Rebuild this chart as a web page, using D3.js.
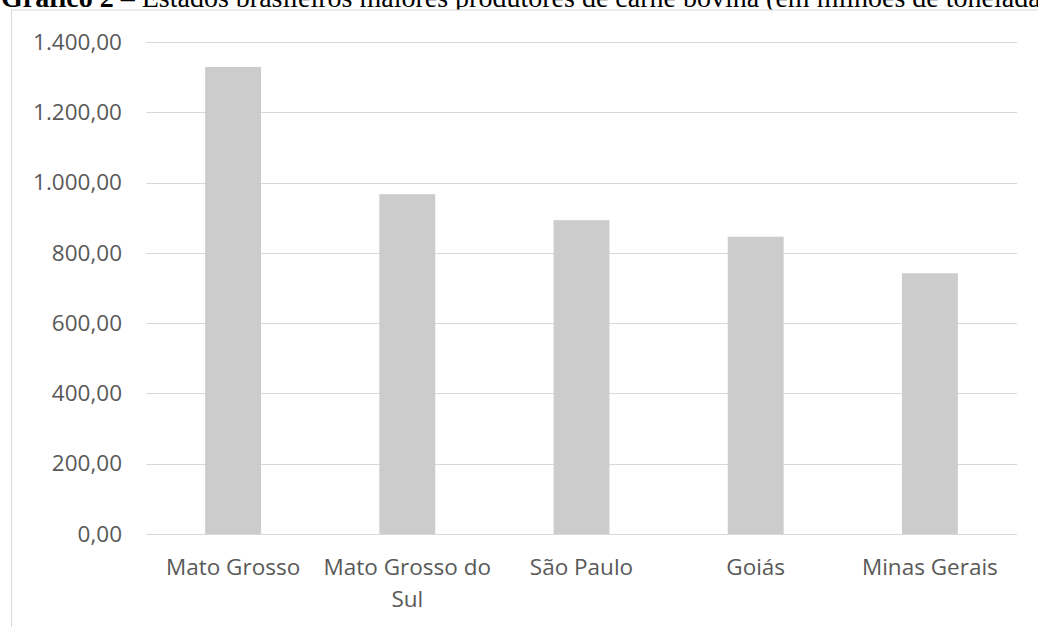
<!DOCTYPE html>
<html>
<head>
<meta charset="utf-8">
<script src="https://cdn.jsdelivr.net/npm/d3@7"></script>
<style>
  html, body { margin: 0; padding: 0; background: #fff; overflow: hidden; }
  svg { display: block; }
</style>
</head>
<body>
<svg id="chart" width="1038" height="627"></svg>
<script>
// Produção de carne bovina por estado
const categories = ["Mato Grosso", "Mato Grosso do Sul", "São Paulo", "Goiás", "Minas Gerais"];
const values = [1329, 967, 893, 846, 742];
const yTicks = [0, 200, 400, 600, 800, 1000, 1200, 1400];
const titleBold = "Gráfico 2";
const titleRest = " – Estados brasileiros maiores produtores de carne bovina (em milhões de toneladas)";

const W = 1038, H = 627;
const svg = d3.select("#chart");

const ptBR = d3.formatLocale({ decimal: ",", thousands: ".", grouping: [3], currency: ["R$", ""] });
const fmt = ptBR.format(",.2f");

// Título (parcialmente encoberto pela área do gráfico)
const title = svg.append("text")
  .attr("x", 1).attr("y", 7)
  .attr("font-family", "'Liberation Serif', 'Times New Roman', serif")
  .attr("font-size", 28)
  .attr("fill", "#000");
title.append("tspan").attr("font-weight", "bold").text(titleBold);
title.append("tspan").text(titleRest);

// Área do gráfico
svg.append("rect")
  .attr("x", 11.5).attr("y", 10)
  .attr("width", W).attr("height", H)
  .attr("fill", "#fff")
  .attr("stroke", "#d9d9d9").attr("stroke-width", 1);

const plot = { left: 146, right: 1017, top: 42, bottom: 534 };

const x = d3.scaleBand()
  .domain(categories)
  .range([plot.left, plot.right])
  .paddingInner(0.679)
  .paddingOuter(0.3395);

const y = d3.scaleLinear()
  .domain([0, 1400])
  .range([plot.bottom, plot.top]);

const font = "'Open Sans', 'Noto Sans', sans-serif";
const fontSize = 22.5;

// Linhas de grade
svg.append("g").selectAll("line")
  .data(yTicks)
  .join("line")
  .attr("x1", plot.left).attr("x2", plot.right)
  .attr("y1", d => Math.round(y(d)) + 0.5).attr("y2", d => Math.round(y(d)) + 0.5)
  .attr("stroke", "#d9d9d9").attr("stroke-width", 1);

// Barras
svg.append("g").selectAll("rect")
  .data(values)
  .join("rect")
  .attr("x", (d, i) => x(categories[i]))
  .attr("y", d => y(d))
  .attr("width", x.bandwidth())
  .attr("height", d => y(0) - y(d))
  .attr("fill", "#cccccc");

// Eixo Y
const yAxis = svg.append("g")
  .attr("transform", `translate(${plot.left},0)`)
  .call(d3.axisLeft(y).tickValues(yTicks).tickFormat(fmt).tickSize(0).tickPadding(24));
yAxis.select(".domain").remove();
yAxis.selectAll("text")
  .attr("font-family", font)
  .attr("font-size", fontSize)
  .attr("fill", "#595959");

// Eixo X com quebra de linha nos rótulos
const xAxis = svg.append("g")
  .attr("transform", `translate(0,${plot.bottom})`)
  .call(d3.axisBottom(x).tickSize(0).tickFormat(""));
xAxis.select(".domain").remove();

const wrapLines = {
  "Mato Grosso do Sul": ["Mato Grosso do", "Sul"]
};
svg.append("g").selectAll("text")
  .data(categories)
  .join("text")
  .attr("x", d => x(d) + x.bandwidth() / 2)
  .attr("y", 575)
  .attr("text-anchor", "middle")
  .attr("font-family", font)
  .attr("font-size", fontSize)
  .attr("fill", "#595959")
  .each(function (d) {
    const lines = wrapLines[d] || [d];
    const t = d3.select(this);
    lines.forEach((ln, i) => {
      t.append("tspan")
        .attr("x", x(d) + x.bandwidth() / 2)
        .attr("dy", i === 0 ? 0 : 32)
        .text(ln);
    });
  });
</script>
</body>
</html>
